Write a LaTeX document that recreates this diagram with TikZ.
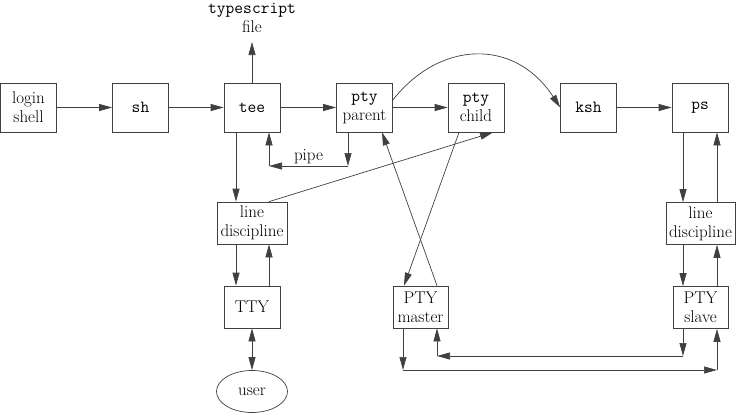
\documentclass[tikz,border=0pt]{standalone}
\usepackage{fontspec}
\usetikzlibrary{arrows.meta,shapes.geometric}
\newcommand{\mtt}[1]{{\ttfamily\fontsize{17}{19}\selectfont #1}}
\begin{document}
\begin{tikzpicture}[x=1pt,y=-1pt,
  every node/.style={font=\fontsize{17}{19}\selectfont, text=black},
  box/.style={draw=black!75, line width=0.7pt, inner sep=0pt, align=center, minimum width=56pt, minimum height=49pt},
  sbox/.style={box, minimum height=42pt},
  arr/.style={draw=black!75, line width=0.7pt, -{Triangle[length=13pt,width=7pt]}},
  dbl/.style={draw=black!75, line width=0.7pt, {Triangle[length=13pt,width=7pt]}-{Triangle[length=13pt,width=7pt]}},
  ln/.style={draw=black!75, line width=0.7pt}]
\useasboundingbox (0,0) rectangle (736,413);
% top row
\node[box] (login) at (28.5,107.5) {login\\shell};
\node[box] (sh) at (140.5,107.5) {\mtt{sh}};
\node[box] (tee) at (252,107.5) {\mtt{tee}};
\node[box] (pparent) at (364.5,107.5) {\mtt{pty}\\parent};
\node[box] (pchild) at (476,107.5) {\mtt{pty}\\child};
\node[box] (ksh) at (588.5,107.5) {\mtt{ksh}};
\node[box] (ps) at (700,107.5) {\mtt{ps}};
\node[align=center, inner sep=0pt] (tsf) at (252,18) {\mtt{typescript}\\file};
\coordinate (tft) at (252,42);
% left column
\node[sbox, minimum width=70pt] (ld1) at (252,223) {line\\discipline};
\node[sbox] (tty) at (252,307) {TTY};
\node[draw=black!75, line width=0.7pt, ellipse, minimum width=71pt, minimum height=42pt, inner sep=0pt] (user) at (252,391.5) {user};
% middle/right
\node[sbox, minimum width=55pt] (pmaster) at (420.5,307) {PTY\\master};
\node[sbox, minimum width=69pt] (ld2) at (700.5,223.5) {line\\discipline};
\node[sbox, minimum width=55pt] (pslave) at (700.5,307.5) {PTY\\slave};
% top row arrows
\draw[arr] (login) -- (sh);
\draw[arr] (sh) -- (tee);
\draw[arr] (tee) -- (pparent);
\draw[arr] (pparent) -- (pchild);
\draw[arr] (ksh) -- (ps);
\draw[arr] (tee.north) -- (tft);
\draw[arr] ([yshift=7.5pt]pparent.east) .. controls (440,40) and (515,38) .. (ksh.west);
% pipe
\coordinate (p1) at (348,166);
\coordinate (p2) at (269,166);
\draw[arr] (pparent.south -| p1) -- (p1);
\draw[arr] (p1) -- node[above=1pt, inner sep=1pt] (pipe) {pipe} (p2);
\draw[arr] (p2) -- (tee.south -| p2);
% left column
\draw[arr] ([xshift=-16pt]tee.south) -- ([xshift=-16pt]ld1.north);
\draw[arr] ([xshift=-16pt]ld1.south) -- ([xshift=-16pt]tty.north);
\draw[arr] ([xshift=17pt]tty.north) -- ([xshift=17pt]ld1.south);
\draw[dbl] (tty.south) -- (user.north);
\draw[arr] ([xshift=17pt]ld1.north) -- ([xshift=17pt]pchild.south);
% crossing lines
\draw[arr] ([xshift=-17pt]pchild.south) -- ([xshift=-16.5pt]pmaster.north);
\draw[arr] ([xshift=16.5pt]pmaster.north) -- ([xshift=17.5pt]pparent.south);
% right column
\draw[arr] ([xshift=-17pt]ps.south) -- ([xshift=-17.5pt]ld2.north);
\draw[arr] ([xshift=16.5pt]ld2.north) -- ([xshift=17pt]ps.south);
\draw[arr] ([xshift=-17.5pt]ld2.south) -- ([xshift=-17.5pt]pslave.north);
\draw[arr] ([xshift=16.5pt]pslave.north) -- ([xshift=16.5pt]ld2.south);
% bottom loops
\coordinate (q1) at (403,370);
\coordinate (q2) at (717,370);
\draw[arr] (pmaster.south -| q1) -- (q1);
\draw[arr] (q1) -- (q2);
\draw[arr] (q2) -- (pslave.south -| q2);
\coordinate (r1) at (683,356);
\coordinate (r2) at (437,356);
\draw[arr] (pslave.south -| r1) -- (r1);
\draw[arr] (r1) -- (r2);
\draw[arr] (r2) -- (pmaster.south -| r2);
\end{tikzpicture}
\end{document}
